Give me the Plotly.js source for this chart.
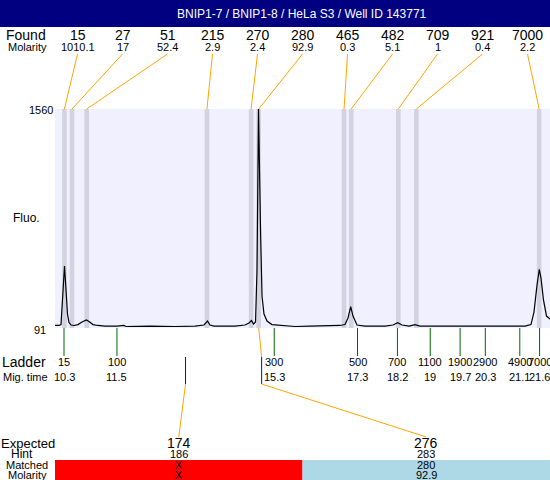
<!DOCTYPE html>
<html>
<head>
<meta charset="utf-8">
<script src="https://cdn.plot.ly/plotly-3.0.1.min.js"></script>
<style>html,body{margin:0;padding:0;background:#fff;}#chart{width:550px;height:480px;}</style>
</head>
<body>
<div id="chart"></div>
<script>
// ---- data ----
const titleText = 'BNIP1-7 / BNIP1-8 / HeLa S3 / Well ID 143771';
const foundSize = ['15','27','51','215','270','280','465','482','709','921','7000'];
const foundMolarity = ['1010.1','17','52.4','2.9','2.4','92.9','0.3','5.1','1','0.4','2.2'];
const foundTime = [10.31,10.49,10.84,13.70,14.75,14.93,16.96,17.13,18.25,18.68,21.60];

const ladderSize = ['15','100','300','500','700','1100','1900','2900','4900','7000'];
const ladderTime = [10.30,11.56,15.30,17.28,18.23,19.01,19.72,20.32,21.14,21.61];
const ladderTimeLabel = ['10.3','11.5','15.3','17.3','18.2','19','19.7','20.3','21.1','21.6'];

const expectedSize = ['174','276'];
const expectedTime = [13.19,15.00];
const expectedHint = ['186','283'];
const expectedMatched = ['X','280'];
const expectedMolarity = ['X','92.9'];
const expectedMatchIndex = [-1,5];

const traceTime = [10.086,10.181,10.229,10.264,10.312,10.348,10.383,10.419,10.466,10.538,10.633,10.728,10.835,10.894,10.990,11.109,11.275,11.560,11.727,11.774,12.345,12.940,13.415,13.629,13.713,13.772,13.867,14.367,14.605,14.700,14.759,14.807,14.855,14.890,14.926,14.974,15.009,15.056,15.128,15.246,15.437,15.793,16.150,16.626,16.864,16.983,17.054,17.118,17.173,17.268,17.458,17.934,18.124,18.236,18.338,18.505,18.648,18.767,19.242,19.718,20.312,20.788,21.263,21.406,21.477,21.549,21.603,21.644,21.703,21.775,21.858];
const traceFluo = [108,108,114,279,507,346,185,128,111,108,114,131,145,135,114,108,104,104,108,101,104,101,104,111,138,111,104,104,111,125,141,118,131,480,1560,748,306,185,138,114,108,101,104,104,108,114,158,234,171,111,104,104,111,127,111,104,114,104,104,101,104,101,104,114,198,379,485,426,279,171,151];

const yLabels = ['1560','91'];
const yRange = [91,1560];

// ---- layout helpers ----
const X0 = 10.086, X1 = 21.858;
const PT = 109, PB = 328, PL = 55, PW = 495;
const py = p => (PB - p) / (PB - PT);
const px = p => (p - PL) / PW;
const colT = (k, n) => X0 + (k + 0.5) / n * (X1 - X0);
const FONT = 'Liberation Sans, Arial, sans-serif';

const shapes = [];
const ann = [];
function txt(x, y, text, size, opts) {
  ann.push(Object.assign({x: x, y: y, xref: 'paper', yref: 'paper', text: text, showarrow: false,
    xanchor: 'center', yanchor: 'middle', borderpad: 0, font: {family: FONT, size: size, color: '#000'}}, opts || {}));
}

// title bar
shapes.push({type: 'rect', xref: 'paper', yref: 'paper', x0: px(0), x1: px(550), y0: py(27), y1: py(0),
  fillcolor: '#000080', line: {width: 0}});
txt(px(302), py(14), titleText, 12, {font: {family: FONT, size: 12, color: '#fff'}});

// found rows
txt(px(26), py(34.5), 'Found', 14);
txt(px(27), py(47), 'Molarity', 11);
foundSize.forEach((s, k) => {
  const c = (k + 0.5) / foundSize.length;
  txt(c, py(34.5), s, 14);
  txt(c, py(47), foundMolarity[k], 11);
  shapes.push({type: 'rect', xref: 'x', yref: 'paper', x0: foundTime[k] - 0.055, x1: foundTime[k] + 0.055,
    y0: 0, y1: 1, fillcolor: '#d2d2e0', line: {width: 0}, layer: 'below'});
  shapes.push({type: 'line', xref: 'x', yref: 'paper', x0: colT(k, foundSize.length), y0: py(54),
    x1: foundTime[k], y1: 1, line: {color: '#ffa500', width: 1}});
});

// y labels
txt(px(40.5), py(110), yLabels[0], 11);
txt(px(40), py(330), yLabels[1], 11);
txt(px(26), py(218), 'Fluo.', 12);

// ladder
txt(px(24), py(362), 'Ladder', 14);
txt(px(25), py(376.5), 'Mig. time', 11);
ladderSize.forEach((s, k) => {
  shapes.push({type: 'line', xref: 'x', yref: 'paper', x0: ladderTime[k], x1: ladderTime[k], y0: 0, y1: py(356),
    line: {color: '#006400', width: 1}});
  ann.push({x: ladderTime[k], y: py(362), xref: 'x', yref: 'paper', text: s, showarrow: false, borderpad: 0,
    xanchor: 'center', yanchor: 'middle', font: {family: FONT, size: 11, color: '#000'}});
  ann.push({x: ladderTime[k], y: py(376.5), xref: 'x', yref: 'paper', text: ladderTimeLabel[k], showarrow: false, borderpad: 0,
    xanchor: 'center', yanchor: 'middle', font: {family: FONT, size: 11, color: '#000'}});
});

// expected
txt(px(0), py(443), 'Expected', 13, {xanchor: 'left'});
txt(px(22), py(454), 'Hint', 12);
txt(px(26.5), py(465), 'Matched', 11);
txt(px(27.5), py(474.5), 'Molarity', 11);
expectedSize.forEach((s, k) => {
  const n = expectedSize.length;
  const c = (k + 0.5) / n;
  const m = expectedMatchIndex[k];
  if (m >= 0) {
    shapes.push({type: 'line', xref: 'x', yref: 'paper', x0: foundTime[m], y0: 0, x1: expectedTime[k], y1: py(357),
      line: {color: '#ffa500', width: 1}});
  }
  shapes.push({type: 'line', xref: 'x', yref: 'paper', x0: expectedTime[k], x1: expectedTime[k], y0: py(357), y1: py(384),
    line: {color: '#0000ff', width: 1}});
  shapes.push({type: 'line', xref: 'x', yref: 'paper', x0: expectedTime[k], y0: py(384), x1: colT(k, n), y1: py(437),
    line: {color: '#ffa500', width: 1}});
  shapes.push({type: 'rect', xref: 'paper', yref: 'paper', x0: k / n, x1: (k + 1) / n, y0: py(480), y1: py(460),
    fillcolor: m >= 0 ? '#add8e6' : '#ff0000', line: {width: 0}});
  txt(c, py(443), s, 14);
  txt(c, py(454), expectedHint[k], 11);
  txt(c, py(465), expectedMatched[k], 11);
  txt(c, py(474.5), expectedMolarity[k], 11);
});

const data = [{x: traceTime, y: traceFluo, type: 'scatter', mode: 'lines',
  line: {color: '#000', width: 1.2}, hoverinfo: 'skip'}];

const layout = {
  width: 550, height: 480,
  margin: {l: PL, r: 0, t: PT, b: 480 - PB, pad: 0},
  paper_bgcolor: '#fff', plot_bgcolor: '#f0f0ff',
  showlegend: false,
  xaxis: {range: [X0, X1], visible: false, showgrid: false, zeroline: false, fixedrange: true},
  yaxis: {range: yRange, showticklabels: false, showgrid: false, zeroline: false, ticks: '', fixedrange: true},
  shapes: shapes,
  annotations: ann
};

Plotly.newPlot('chart', data, layout, {displayModeBar: false, staticPlot: true});
</script>
</body>
</html>
